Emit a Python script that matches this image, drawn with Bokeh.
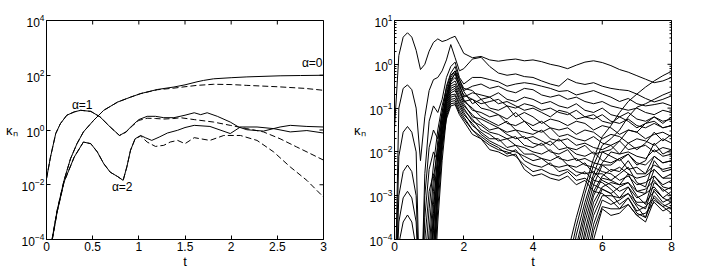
import math
from bokeh.plotting import figure
from bokeh.models import FixedTicker, Label
from bokeh.layouts import row
from bokeh.embed import file_html
from bokeh.resources import INLINE

FONT = "Liberation Sans"

# ---------------- left panel: log10(kappa_n) versus t ----------------
A0_SOLID_T = [0.03, 0.06, 0.115, 0.19, 0.26, 0.33, 0.4, 0.51, 0.62, 0.77, 0.91, 1.02, 1.2, 1.38, 1.5, 1.63, 1.7, 1.81, 2.0, 2.17, 2.53, 2.75, 3.0]
A0_SOLID_L = [-5, -4.0, -2.94, -1.84, -1.05, -0.5, -0.07, 0.35, 0.72, 1.02, 1.2, 1.33, 1.48, 1.57, 1.65, 1.76, 1.81, 1.87, 1.91, 1.94, 1.98, 1.99, 2.0]
A0_DASH_T = [0.03, 0.06, 0.115, 0.19, 0.26, 0.33, 0.4, 0.51, 0.62, 0.77, 0.91, 1.02, 1.2, 1.38, 1.5, 1.63, 1.81, 2.0, 2.17, 2.5, 2.8, 3.0]
A0_DASH_L = [-5, -4.0, -2.94, -1.84, -1.05, -0.5, -0.07, 0.35, 0.72, 1.02, 1.2, 1.33, 1.47, 1.53, 1.58, 1.63, 1.67, 1.66, 1.63, 1.58, 1.52, 1.45]
A1_SOLID_T = [0, 0.043, 0.1, 0.15, 0.22, 0.3, 0.37, 0.48, 0.58, 0.69, 0.79, 0.86, 0.93, 1.0, 1.09, 1.18, 1.27, 1.38, 1.5, 1.6, 1.67, 1.74, 1.85, 1.99, 2.08, 2.17, 2.35, 2.53, 2.64, 2.82, 3.0]
A1_SOLID_L = [-1.78, -0.99, -0.13, 0.23, 0.54, 0.66, 0.72, 0.68, 0.48, 0.11, -0.2, -0.07, 0.17, 0.38, 0.5, 0.5, 0.45, 0.45, 0.54, 0.63, 0.56, 0.63, 0.5, 0.29, 0.11, 0.01, -0.04, 0.11, 0.17, 0.13, 0.11]
A1_DASH_T = [0, 0.043, 0.1, 0.15, 0.22, 0.3, 0.37, 0.48, 0.58, 0.69, 0.79, 0.86, 0.93, 1.0, 1.09, 1.18, 1.27, 1.38, 1.45, 1.6, 1.81, 1.99, 2.17, 2.35, 2.53, 2.71, 2.85, 3.0]
A1_DASH_L = [-1.78, -0.99, -0.13, 0.23, 0.54, 0.66, 0.72, 0.68, 0.48, 0.11, -0.2, -0.08, 0.15, 0.35, 0.43, 0.42, 0.40, 0.42, 0.45, 0.38, 0.29, 0.17, 0.05, -0.07, -0.32, -0.62, -0.85, -1.1]
A2_SOLID_T = [0.03, 0.06, 0.115, 0.19, 0.3, 0.4, 0.48, 0.55, 0.62, 0.69, 0.77, 0.83, 0.87, 0.91, 0.96, 1.02, 1.07, 1.14, 1.22, 1.31, 1.42, 1.5, 1.6, 1.77, 1.99, 2.1, 2.28, 2.46, 2.64, 2.82, 3.0]
A2_SOLID_L = [-5, -4.05, -3.0, -1.9, -0.99, -0.44, -0.5, -0.8, -1.23, -1.54, -1.7, -1.84, -1.35, -0.74, -0.32, -0.2, -0.28, -0.38, -0.26, -0.11, -0.01, 0.09, 0.17, 0.13, -0.13, 0.11, 0.11, 0.05, -0.07, -0.02, -0.11]
A2_DASH_T = [0.03, 0.06, 0.115, 0.19, 0.3, 0.4, 0.48, 0.55, 0.62, 0.69, 0.77, 0.83, 0.87, 0.91, 0.96, 1.02, 1.09, 1.18, 1.27, 1.34, 1.42, 1.5, 1.6, 1.77, 1.92, 2.1, 2.28, 2.46, 2.64, 2.82, 3.0]
A2_DASH_L = [-5, -4.05, -3.0, -1.9, -0.99, -0.44, -0.5, -0.8, -1.23, -1.54, -1.7, -1.84, -1.35, -0.74, -0.32, -0.22, -0.44, -0.6, -0.56, -0.44, -0.38, -0.5, -0.28, -0.38, -0.2, -0.2, -0.38, -0.8, -1.35, -1.84, -2.45]

LEFT_X_TICKS = [0, 0.5, 1, 1.5, 2, 2.5, 3]
LEFT_X_LABELS = ["0", "0.5", "1", "1.5", "2", "2.5", "3"]
LEFT_Y_TICKS = [1e-4, 1e-2, 1e0, 1e2, 1e4]

# ---------------- right panel: log10(kappa_n) versus t ----------------
T_FULL = [0, 0.125, 0.25, 0.375, 0.5, 0.625, 0.75, 0.875, 1.0, 1.125, 1.25, 1.375, 1.5, 1.625, 1.75, 1.875, 2.0,
          2.25, 2.5, 2.75, 3.0, 3.25, 3.5, 3.75, 4.0, 4.25, 4.5, 4.75, 5.0, 5.25, 5.5, 5.75, 6.0, 6.25, 6.5, 6.75, 7.0, 7.25, 7.5, 7.75, 8.0]
LOW_MODES = [
    [-1.46, 0.2, 0.62, 0.72, 0.62, 0.32, -0.12, 0.0, 0.3, 0.5, 0.58, 0.52, 0.55, 0.6, 0.64, 0.45, 0.25,
     0.15, 0.18, 0.1, 0.07, 0.1, 0.12, 0.08, 0.1, 0.06, 0.0, -0.04, -0.1, -0.02, 0.05, 0.08, 0.04, -0.03, -0.12, -0.18, -0.26, -0.34, -0.42, -0.38, -0.3],
    [-6, -1.0, -0.55, -0.47, -0.58, -1.0, -2.2, -1.2, -0.6, -0.35, -0.3, -0.15, 0.1, 0.45, 0.15, -0.15, -0.1,
     0.12, 0.16, -0.05, -0.2, -0.25, -0.22, -0.28, -0.3, -0.38, -0.45, -0.5, -0.33, -0.42, -0.46, -0.42, -0.5, -0.55, -0.58, -0.6, -0.68, -0.78, -0.86, -0.8, -0.72],
    [-6, -2.1, -1.55, -1.42, -1.55, -2.0, -6, -2.5, -1.3, -0.95, -1.1, -0.8, -0.3, -0.05, 0.05, -0.3, -0.45,
     -0.3, -0.3, -0.35, -0.4, -0.5, -0.45, -0.42, -0.45, -0.5, -0.55, -0.62, -0.6, -0.7, -0.65, -0.6, -0.68, -0.75, -0.85, -0.78, -0.9, -0.95, -0.92, -0.88, -0.95],
    [-6, -3.0, -2.45, -2.3, -2.45, -3.0, -6, -3.0, -1.9, -1.5, -1.7, -1.1, -0.5, -0.2, -0.05, -0.35, -0.6,
     -0.5, -0.45, -0.55, -0.5, -0.6, -0.65, -0.55, -0.58, -0.7, -0.75, -0.7, -0.8, -0.75, -0.85, -0.9, -0.85, -0.95, -1.0, -1.05, -1.0, -1.1, -1.15, -1.05, -1.1],
    [-6, -3.6, -3.05, -2.9, -3.05, -3.6, -6, -3.5, -2.4, -2.0, -2.2, -1.4, -0.7, -0.3, -0.15, -0.45, -0.75,
     -0.65, -0.7, -0.75, -0.65, -0.8, -0.85, -0.75, -0.8, -0.9, -0.85, -0.95, -1.0, -0.9, -1.05, -1.1, -1.0, -1.15, -1.2, -1.1, -1.25, -1.3, -1.2, -1.3, -1.25],
    [-6, -4.1, -3.6, -3.44, -3.6, -4.2, -6, -4.0, -2.9, -2.5, -2.7, -1.6, -0.85, -0.4, -0.2, -0.55, -0.85,
     -0.8, -0.9, -0.85, -0.8, -0.95, -1.0, -0.9, -0.95, -1.05, -1.0, -1.1, -1.15, -1.05, -1.2, -1.25, -1.15, -1.3, -1.35, -1.25, -1.4, -1.45, -1.35, -1.45, -1.4],
]

T_MID = [0.875, 1.0, 1.125, 1.25, 1.375, 1.5, 1.625, 1.75, 1.875, 2.0, 2.25, 2.5, 2.75, 3.0, 3.25, 3.5, 3.75,
         4.0, 4.25, 4.5, 4.75, 5.0, 5.25, 5.5, 5.75, 6.0, 6.25, 6.5, 6.75, 7.0, 7.25, 7.5, 7.75, 8.0]
MID_MODES = [
    [-4.6, -3.3, -2.3, -1.5, -0.95, -0.55, -0.25, -0.15, -0.35,
     -0.55, -0.6, -0.8, -0.75, -0.9, -0.85, -0.95, -1.05, -1.0, -1.1, -1.2, -1.05, -1.1, -1.25, -1.2, -1.15, -1.3, -1.35, -1.2, -1.3, -1.45, -1.35, -1.3, -1.45, -1.4],
    [-6, -4.2, -2.9, -1.75, -1.1, -0.6, -0.35, -0.22, -0.42,
     -0.62, -0.9, -0.8, -1.0, -1.05, -0.95, -1.2, -1.1, -1.2, -1.35, -1.25, -1.3, -1.4, -1.3, -1.35, -1.5, -1.4, -1.45, -1.6, -1.5, -1.55, -1.7, -1.6, -1.55, -1.65],
    [-6, -4.9, -3.4, -2.0, -1.2, -0.7, -0.4, -0.3, -0.5,
     -0.7, -0.8, -1.0, -1.05, -1.15, -1.25, -1.1, -1.3, -1.4, -1.3, -1.45, -1.5, -1.45, -1.6, -1.5, -1.55, -1.7, -1.6, -1.65, -1.8, -1.7, -1.75, -1.85, -1.7, -1.8],
    [-5.2, -3.8, -2.6, -1.9, -1.25, -0.75, -0.45, -0.38, -0.6,
     -0.8, -1.05, -1.1, -1.2, -1.15, -1.35, -1.4, -1.3, -1.5, -1.55, -1.45, -1.65, -1.6, -1.7, -1.75, -1.65, -1.8, -1.85, -1.75, -1.95, -1.9, -1.85, -2.0, -1.9, -1.95],
    [-6, -5.5, -3.8, -2.3, -1.4, -0.8, -0.5, -0.45, -0.65,
     -0.85, -1.0, -1.2, -1.3, -1.4, -1.3, -1.5, -1.55, -1.6, -1.5, -1.7, -1.75, -1.7, -1.85, -1.8, -1.9, -1.95, -1.85, -2.05, -2.0, -2.1, -2.15, -1.95, -2.1, -2.05],
    [-6, -4.5, -3.2, -2.1, -1.35, -0.85, -0.55, -0.5, -0.72,
     -0.9, -1.2, -1.25, -1.35, -1.45, -1.55, -1.5, -1.7, -1.65, -1.75, -1.85, -1.7, -1.9, -1.95, -1.85, -2.05, -2.0, -2.1, -2.2, -2.05, -2.25, -2.3, -2.1, -2.25, -2.2],
    [-6, -6, -4.3, -2.6, -1.6, -0.9, -0.6, -0.55, -0.78,
     -0.95, -1.15, -1.35, -1.5, -1.45, -1.6, -1.7, -1.65, -1.8, -1.85, -1.75, -1.95, -1.9, -2.05, -2.1, -2.0, -2.2, -2.25, -2.15, -2.4, -2.35, -2.5, -2.3, -2.4, -2.35],
    [-6, -5.0, -3.6, -2.3, -1.5, -0.95, -0.65, -0.6, -0.82,
     -1.0, -1.3, -1.4, -1.55, -1.6, -1.7, -1.65, -1.85, -1.9, -1.8, -2.0, -2.05, -1.95, -2.2, -2.15, -2.25, -2.3, -2.45, -2.35, -2.5, -2.6, -2.55, -2.4, -2.6, -2.5],
    [-6, -6, -4.8, -3.0, -1.8, -1.0, -0.7, -0.68, -0.88,
     -1.05, -1.25, -1.5, -1.6, -1.75, -1.7, -1.85, -1.9, -2.0, -2.05, -1.95, -2.15, -2.2, -2.15, -2.3, -2.35, -2.45, -2.5, -2.65, -2.55, -2.75, -2.7, -2.55, -2.75, -2.65],
    [-6, -5.3, -3.7, -2.5, -1.6, -1.05, -0.75, -0.72, -0.92,
     -1.1, -1.4, -1.55, -1.7, -1.7, -1.9, -1.85, -2.05, -2.05, -2.15, -2.2, -2.1, -2.3, -2.35, -2.25, -2.5, -2.5, -2.65, -2.75, -2.7, -2.9, -2.85, -2.65, -2.9, -2.8],
    [-6, -6, -5.0, -3.3, -2.0, -1.1, -0.8, -0.78, -0.98,
     -1.15, -1.35, -1.6, -1.75, -1.85, -1.95, -2.0, -2.1, -2.2, -2.15, -2.3, -2.35, -2.3, -2.45, -2.5, -2.45, -2.65, -2.75, -2.9, -2.8, -3.05, -2.95, -2.8, -3.05, -2.9],
    [-6, -5.8, -4.2, -2.7, -1.75, -1.15, -0.85, -0.83, -1.05,
     -1.2, -1.5, -1.65, -1.8, -1.9, -2.05, -1.95, -2.2, -2.3, -2.35, -2.25, -2.45, -2.4, -2.55, -2.45, -2.65, -2.7, -2.85, -3.05, -2.95, -3.15, -3.15, -2.9, -3.15, -3.05],
    [-6, -6, -5.5, -3.6, -2.2, -1.2, -0.9, -0.88, -1.1,
     -1.25, -1.5, -1.7, -1.85, -1.95, -2.0, -2.1, -2.3, -2.45, -2.4, -2.5, -2.55, -2.45, -2.65, -2.6, -2.75, -2.85, -2.95, -3.2, -3.05, -3.35, -3.25, -3.05, -3.25, -3.15],
    [-6, -6, -4.6, -2.9, -1.85, -1.25, -0.95, -0.92, -1.15,
     -1.3, -1.6, -1.7, -1.95, -2.0, -2.1, -2.05, -2.4, -2.55, -2.5, -2.6, -2.65, -2.55, -2.75, -2.65, -2.9, -2.95, -3.1, -3.3, -3.2, -3.45, -3.4, -3.15, -3.35, -3.25],
]

T_LATE = [4.75, 5.0, 5.25, 5.5, 5.75, 6.0, 6.25, 6.5, 6.75, 7.0, 7.25, 7.5, 7.75, 8.0]
LATE_MODES = [
    [-6, -4.3, -3.5, -2.8, -2.15, -1.65, -1.4, -1.1, -0.85, -0.68, -0.52, -0.38, -0.26, -0.16],
    [-6, -4.6, -3.7, -2.95, -2.3, -1.85, -1.7, -1.5, -1.2, -0.98, -0.9, -0.8, -0.7, -0.62],
    [-6, -5.0, -3.9, -3.15, -2.5, -2.0, -1.95, -1.75, -1.5, -1.55, -1.35, -1.2, -1.35, -1.2],
    [-6, -5.2, -4.15, -3.3, -2.6, -2.25, -2.0, -2.05, -1.8, -1.95, -1.8, -1.55, -1.75, -1.6],
    [-6, -5.5, -4.3, -3.45, -2.75, -2.3, -2.3, -2.15, -2.05, -2.3, -2.2, -1.8, -2.05, -1.95],
    [-6, -5.8, -4.55, -3.6, -2.9, -2.55, -2.4, -2.45, -2.2, -2.5, -2.5, -2.1, -2.25, -2.2],
    [-6, -6, -4.8, -3.8, -3.0, -2.6, -2.65, -2.5, -2.35, -2.7, -2.8, -2.2, -2.45, -2.4],
    [-6, -6, -5.05, -3.95, -3.15, -2.8, -2.7, -2.75, -2.5, -2.9, -2.95, -2.4, -2.6, -2.6],
    [-6, -6, -5.3, -4.15, -3.3, -2.85, -2.95, -2.8, -2.7, -3.0, -3.2, -2.55, -2.8, -2.85],
    [-6, -6, -5.6, -4.35, -3.45, -3.0, -3.0, -3.05, -2.8, -3.2, -3.3, -2.7, -2.85, -3.0],
    [-6, -6, -6, -4.6, -3.65, -3.1, -3.2, -3.1, -2.95, -3.25, -3.5, -2.85, -3.05, -3.15],
    [-6, -6, -6, -4.85, -3.8, -3.25, -3.3, -3.3, -3.05, -3.4, -3.5, -3.0, -3.2, -3.3],
    [-6, -6, -6, -5.15, -4.0, -3.3, -3.45, -3.4, -3.2, -3.45, -3.6, -3.1, -3.25, -3.4],
]

RIGHT_X_TICKS = [0, 2, 4, 6, 8]
RIGHT_X_LABELS = ["0", "2", "4", "6", "8"]
RIGHT_Y_TICKS = [1e-4, 1e-3, 1e-2, 1e-1, 1e0, 1e1]
RIGHT_Y_MINOR = [m * 10.0 ** e for e in range(-4, 1) for m in range(2, 10)]


def to_kappa(logs):
    return [10.0 ** v for v in logs]


def style(p, xt, xl, yt, ym, minor_len):
    p.grid.visible = False
    p.outline_line_color = "black"
    p.outline_line_width = 1
    p.background_fill_color = "white"
    p.border_fill_color = "white"
    xa = p.xaxis[0]
    xa.ticker = FixedTicker(ticks=xt)
    xa.major_label_overrides = dict(zip(xt, xl))
    ya = p.yaxis[0]
    ya.ticker = FixedTicker(ticks=yt, minor_ticks=ym)
    for ax in (xa, ya):
        ax.major_tick_in = 4
        ax.major_tick_out = 0
        ax.minor_tick_in = minor_len
        ax.minor_tick_out = 0
        ax.axis_line_color = "black"
        ax.major_tick_line_color = "black"
        ax.minor_tick_line_color = "black"
        ax.major_label_text_font = FONT
        ax.major_label_text_color = "black"
        ax.major_label_text_font_size = "12px"
        ax.axis_label_text_font = FONT
        ax.axis_label_text_font_style = "normal"
        ax.axis_label_text_font_size = "13px"
        ax.axis_label_text_color = "black"
        ax.major_label_standoff = 2
    xa.axis_label = "t"
    xa.axis_label_standoff = 0
    ya.axis_label = "κₙ"
    ya.axis_label_orientation = "horizontal"
    ya.axis_label_standoff = 1
    # tick marks on the top and right edges of the box (half of each dash lies inside)
    x1 = p.x_range.end
    y1 = p.y_range.end
    p.scatter(xt, [y1] * len(xt), marker="dash", angle=math.pi / 2, size=8,
              line_color="black", line_width=1)
    p.scatter([x1] * len(yt), yt, marker="dash", size=8, line_color="black", line_width=1)
    if ym:
        p.scatter([x1] * len(ym), ym, marker="dash", size=4, line_color="black", line_width=1)


# ---------------- left figure ----------------
p1 = figure(frame_width=277, frame_height=219, x_range=(0, 3), y_range=(1e-4, 1e4), y_axis_type="log",
            output_backend="svg", toolbar_location=None,
            min_border_left=46, min_border_right=25, min_border_top=20, min_border_bottom=24)
style(p1, LEFT_X_TICKS, LEFT_X_LABELS, LEFT_Y_TICKS, [], 0)

p1.line(A0_SOLID_T, to_kappa(A0_SOLID_L), line_color="black", line_width=1)
p1.line(A0_DASH_T, to_kappa(A0_DASH_L), line_color="black", line_width=1, line_dash="6 3")
p1.line(A1_SOLID_T, to_kappa(A1_SOLID_L), line_color="black", line_width=1)
p1.line(A1_DASH_T, to_kappa(A1_DASH_L), line_color="black", line_width=1, line_dash="6 3")
p1.line(A2_SOLID_T, to_kappa(A2_SOLID_L), line_color="black", line_width=1)
p1.line(A2_DASH_T, to_kappa(A2_DASH_L), line_color="black", line_width=1, line_dash="6 3")

for txt, tx, ty in (("α=0", 2.878, 10 ** 2.44), ("α=1", 0.387, 10 ** 0.93), ("α=2", 0.82, 10 ** -2.09)):
    p1.add_layout(Label(x=tx, y=ty, text=txt, text_align="center", text_baseline="middle",
                        text_font=FONT, text_font_size="12px", text_color="black"))

# ---------------- right figure ----------------
p2 = figure(frame_width=277, frame_height=219, x_range=(0, 8), y_range=(1e-4, 1e1), y_axis_type="log",
            output_backend="svg", toolbar_location=None,
            min_border_left=46, min_border_right=32, min_border_top=20, min_border_bottom=24)
style(p2, RIGHT_X_TICKS, RIGHT_X_LABELS, RIGHT_Y_TICKS, RIGHT_Y_MINOR, 2)

xs = [T_FULL] * len(LOW_MODES) + [T_MID] * len(MID_MODES) + [T_LATE] * len(LATE_MODES)
ys = [to_kappa(r) for r in LOW_MODES + MID_MODES + LATE_MODES]
p2.multi_line(xs, ys, line_color="black", line_width=1)

layout = row(p1, p2)
open("out.html", "w").write(file_html(layout, INLINE))
